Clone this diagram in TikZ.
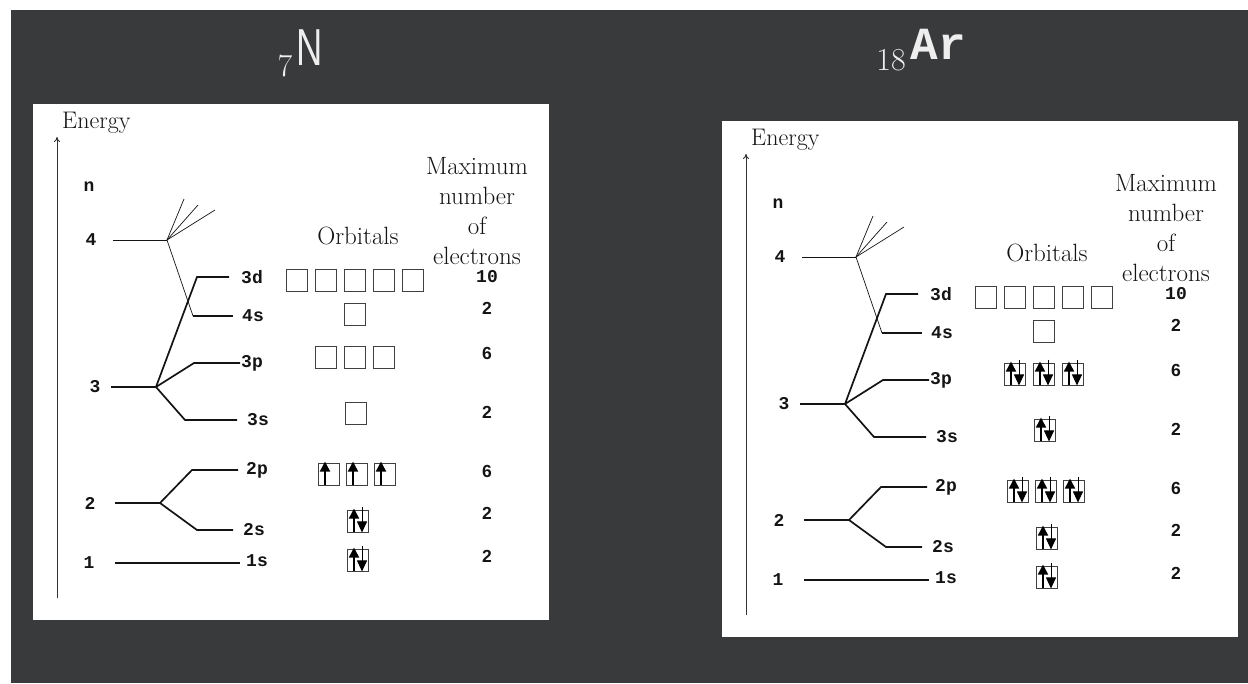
\documentclass[tikz,border=0pt]{standalone}
\usepackage{fontspec}
\usepackage{graphicx}
\usetikzlibrary{arrows.meta}

\newfontfamily\levelfont{Liberation Mono}
\newfontfamily\maxfont{Liberation Sans}
\definecolor{board}{HTML}{393A3C}
\definecolor{chalk}{HTML}{EEEEEE}
\definecolor{ink}{HTML}{141414}

\tikzset{
  shell/.style={draw=ink, line width=1.7pt},
  fan/.style={draw=ink, line width=0.7pt},
  orb/.style={draw=black!75, line width=0.9pt, minimum width=21pt, minimum height=22pt, inner sep=0pt},
  lbl/.style={font=\levelfont\bfseries\fontsize{18}{18}\selectfont, text=ink, inner sep=0pt},
  maxnum/.style={font=\maxfont\bfseries\fontsize{17.5}{18}\selectfont, text=ink, inner sep=0pt},
  heading/.style={font=\fontsize{25}{30}\selectfont, text=ink, align=center, inner sep=0pt},
  spinup/.style={draw=black, line width=1.8pt, -{Triangle[width=10pt,length=10pt]}},
  spindown/.style={draw=black, line width=0.9pt, -{Triangle[width=10pt,length=11pt]}},
}

\begin{document}
\begin{tikzpicture}[x=1pt, y=-1pt]
\useasboundingbox (0,0) rectangle (1248,683);
\fill[white] (0,0) rectangle (1248,683);
\fill[board] (11,10) rectangle (1248,683);

% element titles
\node[text=chalk, font=\maxfont\fontsize{52}{52}\selectfont] (N) at (310,48) {\scalebox{0.7}[1]{N}};
\node[text=chalk, font=\fontsize{32}{32}\selectfont] (N7) at (285,66) {7};
\node[text=chalk, font=\levelfont\bfseries\fontsize{46}{46}\selectfont] (Ar) at (938,44) {Ar};
\node[text=chalk, font=\fontsize{32}{32}\selectfont] (Ar18) at (891,60) {18};

\foreach \p/\dx/\dy in {L/0/0, R/689/17} {
  \begin{scope}[shift={(\dx,\dy)}]
    \fill[white] (33,104) rectangle (549,620);

    % energy axis
    \coordinate (\p-top) at (57,137);
    \coordinate (\p-bot) at (57,598);
    \draw[black!80, line width=1pt, -{To[length=5pt,width=6pt]}] (\p-bot) -- (\p-top);
    \node[font=\fontsize{24}{24}\selectfont, text=ink, anchor=west, inner sep=0pt] (\p-energy) at (62,123) {Energy};

    % principal levels
    \node[lbl] (\p-n) at (89,187) {n};
    \foreach \n/\x/\y/\s in {4/91/240/113, 3/95/387/111, 2/90/503/115, 1/89/563/115} {
      \node[lbl] (\p-\n) at (\x,\y) {\n};
      \coordinate (\p-s\n) at (\s,\y);
    }
    \coordinate (\p-h4) at (167,240);
    \coordinate (\p-h3) at (156,387);
    \coordinate (\p-h2) at (160,503);
    \draw[fan] (\p-s4) -- (\p-h4);
    \draw[shell] (\p-s3) -- (\p-h3);
    \draw[shell] (\p-s2) -- (\p-h2);
    \foreach \fx/\fy in {17/-41, 31/-35, 48/-30}
      \draw[fan] (\p-h4) -- +(\fx,\fy);

    % sublevels
    \foreach \o/\h/\cx/\cy/\lx/\g in {3d/3/197/277/241/12, 3p/3/194/363/241/1,
        3s/3/185/420/247/10, 2p/2/192/470/246/8, 2s/2/197/530/243/10} {
      \node[lbl, anchor=west] (\p-l\o) at (\lx,\cy) {\o};
      \coordinate (\p-c\o) at (\cx,\cy);
      \draw[shell] (\p-h\h) -- (\p-c\o) -- ([xshift=-\g pt]\p-l\o.west);
    }
    \node[lbl, anchor=west] (\p-l4s) at (242,316) {4s};
    \coordinate (\p-c4s) at (193,316);
    \draw[fan] (\p-h4) -- (\p-c4s);
    \draw[shell] (\p-c4s) -- ([xshift=-9pt]\p-l4s.west);
    \node[lbl, anchor=west] (\p-l1s) at (246,561) {1s};
    \draw[shell] (\p-s1) -- ([xshift=-6pt]\p-l1s.west |- \p-s1);

    % orbital boxes
    \node[heading] (\p-orbitals) at (358,236) {Orbitals};
    \foreach \i in {1,...,5}
      \node[orb] (\p-3d\i) at ({268+29*\i},280) {};
    \node[orb] (\p-4s) at (355,314) {};
    \foreach \i in {1,2,3}
      \node[orb] (\p-3p\i) at ({297+29*\i},357) {};
    \node[orb] (\p-3s) at (356,413) {};
    \foreach \i in {1,2,3}
      \node[orb] (\p-2p\i) at ({301+28*\i},474) {};
    \node[orb] (\p-2s) at (358,521) {};
    \node[orb] (\p-1s) at (358,560) {};

    % maximum number of electrons
    \node[heading] (\p-max) at (477,211) {Maximum\\number\\of\\electrons};
    \foreach \t/\y [count=\i] in {{\levelfont\fontsize{18}{18}\selectfont 10}/277, 2/308, 6/353,
        2/412, 6/471, 2/513, 2/556}
      \node[maxnum] (\p-m\i) at (487,\y) {\t};
  \end{scope}
}

% electrons, nitrogen
\foreach \b in {L-2p1, L-2p2, L-2p3}
  \draw[spinup] ([xshift=-4pt]\b.south) -- ([xshift=-4pt,yshift=1pt]\b.north);

% electrons, paired spins
\foreach \b in {L-2s, L-1s, R-1s, R-2s, R-2p1, R-2p2, R-2p3, R-3s, R-3p1, R-3p2, R-3p3} {
  \draw[spinup] ([xshift=-4pt]\b.south) -- ([xshift=-4pt,yshift=1pt]\b.north);
  \draw[spindown] ([xshift=4pt,yshift=3pt]\b.north) -- ([xshift=4pt]\b.south);
}
\end{tikzpicture}
\end{document}
